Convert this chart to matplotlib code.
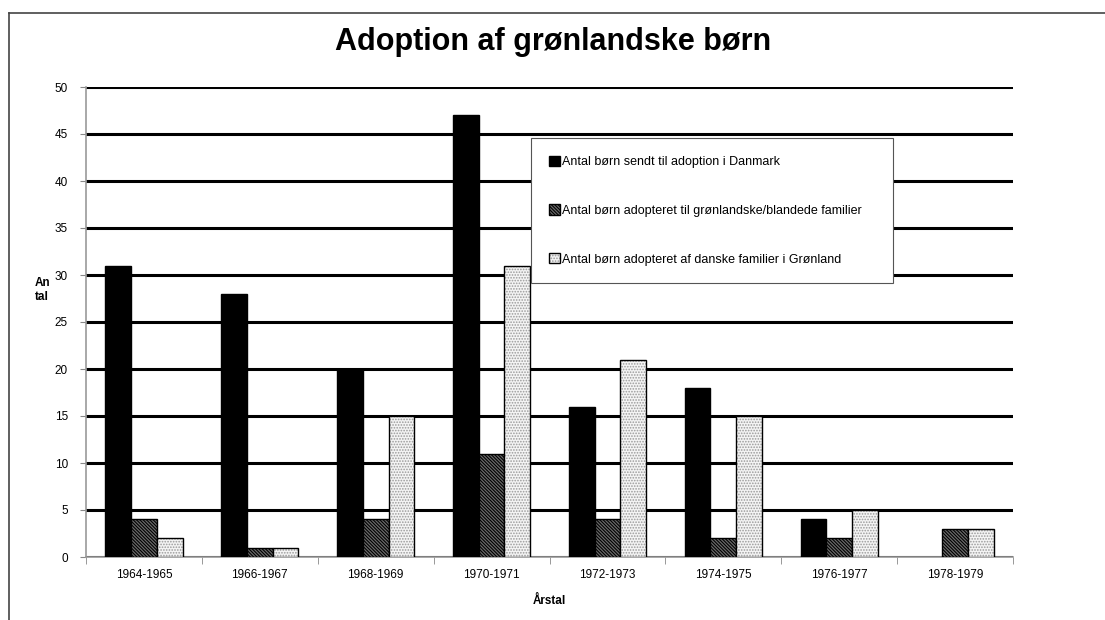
import numpy as np
import matplotlib.pyplot as plt
from matplotlib.lines import Line2D

plt.rcParams['font.family'] = ['Liberation Sans', 'DejaVu Sans']
plt.rcParams['hatch.linewidth'] = 0.8

# data
periods = ['1964-1965', '1966-1967', '1968-1969', '1970-1971',
           '1972-1973', '1974-1975', '1976-1977', '1978-1979']
sendt_dk = [31, 28, 20, 47, 16, 18, 4, 0]
groen_fam = [4, 1, 4, 11, 4, 2, 2, 3]
dansk_fam_gl = [2, 1, 15, 31, 21, 15, 5, 3]
labels = ['Antal børn sendt til adoption i Danmark',
          'Antal børn adopteret til grønlandske/blandede familier',
          'Antal børn adopteret af danske familier i Grønland']

fig = plt.figure(figsize=(11.05, 6.2), dpi=100)
ax = fig.add_axes([86/1105, 1-557/620, (1013-86)/1105, (557-87)/620])

x = np.arange(len(periods))
w = 0.222
kw = dict(edgecolor='black', linewidth=1.0, zorder=3)
b1 = ax.bar(x - w, sendt_dk, w, color='black', **kw)
b2 = ax.bar(x, groen_fam, w, color='#6a6a6a', hatch='\\\\\\\\\\\\\\\\\\\\', **kw)
# light dotted bars: grey dots, then a black outline on top
b3 = ax.bar(x + w, dansk_fam_gl, w, facecolor='#f4f4f4', edgecolor='#9a9a9a',
            hatch='......', linewidth=0, zorder=3)
b3o = ax.bar(x + w, dansk_fam_gl, w, facecolor='none', edgecolor='black',
             linewidth=1.0, zorder=3.5)
# no outline for empty bars
for bars in (b1, b2, b3, b3o):
    for b in bars:
        if b.get_height() == 0:
            b.set_visible(False)

ax.set_xlim(-0.5, len(periods) - 0.5)
ax.set_ylim(0, 50)
ax.set_yticks(range(0, 51, 5))
ax.yaxis.grid(True, color='black', linewidth=2.2, zorder=1)
ax.set_axisbelow(True)

ax.set_xticks(x)
ax.set_xticklabels(periods, fontsize=8.5)
ax.set_xticks(np.arange(-0.5, len(periods)), minor=True)
ax.tick_params(axis='x', which='major', length=0, pad=9)
ax.tick_params(axis='x', which='minor', length=5, color='#888888', direction='out')
ax.tick_params(axis='y', length=4, color='#888888', labelsize=8.5, pad=9)

for s in ['top', 'right']:
    ax.spines[s].set_visible(False)
for s in ['left', 'bottom']:
    ax.spines[s].set_color('#999999')
    ax.spines[s].set_linewidth(1.2)

ax.set_xlabel('Årstal', fontsize=8.5, fontweight='bold', labelpad=10)
fig.text(35/1105, 1-290/620, 'An\ntal', fontsize=8.5, fontweight='bold',
         ha='left', va='center', linespacing=1.3)
fig.text(553/1105, 1-42/620, 'Adoption af grønlandske børn', fontsize=22,
         fontweight='bold', ha='center', va='center')

leg = ax.legend(handles=[b1, b2, (b3, b3o)], labels=labels,
                loc='upper left', bbox_to_anchor=(531/1105, 1-277/620, (893-531)/1105, (277-138)/620),
                bbox_transform=fig.transFigure, mode='expand', fontsize=9, frameon=True,
                fancybox=False, edgecolor='#555555', framealpha=1, borderpad=1.4,
                labelspacing=2.9, handlelength=0.9, handleheight=0.9, handletextpad=0.2,
                borderaxespad=0)
leg.get_frame().set_linewidth(0.8)
leg.set_zorder(10)

# outer frame (left and top)
fig.add_artist(Line2D([9/1105, 9/1105], [0, 1-13/620], color='#444444', linewidth=1.2))
fig.add_artist(Line2D([9/1105, 1], [1-13/620, 1-13/620], color='#444444', linewidth=1.2))

fig.savefig('out.png', dpi=100)
